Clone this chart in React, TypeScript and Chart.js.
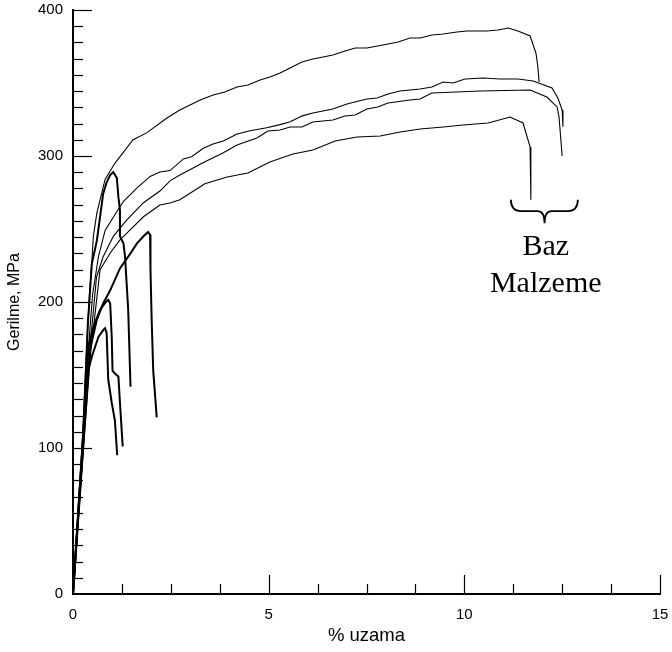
import React, { useEffect, useRef } from "react";
import { Chart, registerables } from "chart.js";

Chart.register(...registerables);

// ---- axis definitions ----
const xMin = 0;
const xMax = 15;
const xMajorStep = 5;
const xMinorStep = 1.25;
const yMin = 0;
const yMax = 400;
const yMajorStep = 100;
const yMinorPerMajor = 9;

const xTitle = "% uzama";
const yTitle = "Gerilme, MPa";
const noteLines = ["Baz", "Malzeme"];

// ---- base material curves (thin) ----
const baseA: [number, number][] = [
  [0, 0], [0.25, 110], [0.36, 175], [0.42, 205], [0.48, 227], [0.52, 245], [0.61, 261], [0.82, 284],
  [1.07, 295], [1.53, 311], [1.89, 316], [2.4, 326], [2.73, 331.5], [3.25, 338.4], [3.58, 341.8],
  [3.88, 343.8], [4.19, 347.3], [4.47, 348.6], [4.78, 352.1], [5.03, 354.1], [5.29, 356.8],
  [5.55, 360.3], [5.85, 364.4], [6.13, 366.4], [6.39, 367.8], [6.64, 369.2], [6.95, 371.9],
  [7.21, 374], [7.51, 374], [8.05, 376.7], [8.31, 378.1], [8.61, 380.8], [8.87, 380.8],
  [9.17, 382.9], [9.46, 383.6], [9.81, 384.9], [10.07, 385.6], [10.58, 385.6], [10.86, 386.3],
  [11.12, 387.7], [11.37, 385.6], [11.68, 382.2], [11.83, 370.5], [11.88, 361], [11.91, 350.7],
];
const baseB: [number, number][] = [
  [0, 0], [0.27, 110], [0.4, 170], [0.5, 205], [0.65, 231], [0.82, 249], [1.03, 258], [1.29, 269],
  [1.63, 278], [1.97, 286], [2.22, 289], [2.48, 290], [2.82, 298], [3.03, 299.5], [3.33, 305.3],
  [3.58, 308.2], [3.84, 310.3], [4.18, 314.9], [4.52, 317.3], [4.95, 319.4], [5.29, 321.5],
  [5.55, 323.4], [5.86, 327.5], [6.13, 329.5], [6.64, 332.2], [7.0, 335.6], [7.51, 339],
  [7.77, 339.7], [8.05, 342.5], [8.36, 344.5], [8.87, 345.9], [9.17, 347.3], [9.46, 350.7],
  [9.71, 350], [10.02, 352.7], [10.48, 353.4], [10.91, 352.7], [11.37, 352.7], [11.76, 351.4],
  [12.24, 346.6], [12.39, 339.7], [12.5, 331.5], [12.52, 320],
];
const baseC: [number, number][] = [
  [0, 0], [0.27, 105], [0.42, 165], [0.6, 217], [0.77, 231], [1.03, 245], [1.37, 256], [1.8, 268],
  [2.22, 276], [2.48, 283], [2.73, 287], [3.07, 291.8], [3.37, 296], [3.83, 302.1], [4.19, 307.5],
  [4.7, 312.3], [4.98, 317.1], [5.29, 317.8], [5.55, 319.9], [5.85, 319.9], [6.13, 323.3],
  [6.64, 324.7], [6.95, 327.4], [7.21, 328.1], [7.51, 332.2], [7.79, 333.6], [8.05, 336.3],
  [8.61, 338.4], [8.87, 339], [9.17, 343.2], [10.4, 344.5], [11.68, 345.2], [12.11, 340.4],
  [12.37, 333.6], [12.42, 326.7], [12.5, 300],
];
const baseD: [number, number][] = [
  [0, 0], [0.28, 105], [0.45, 165], [0.69, 222], [0.95, 233.6], [1.2, 242.5], [1.37, 247],
  [1.8, 258.4], [2.22, 266.4], [2.48, 267.8], [2.73, 270], [3.37, 281], [3.94, 285.6],
  [4.47, 288.4], [5.03, 295.9], [5.62, 301.4], [6.13, 304.1], [6.7, 310.3], [7.26, 313],
  [7.85, 313.7], [8.36, 316.4], [8.87, 318.5], [9.46, 319.9], [9.97, 321.2], [10.61, 322.6],
  [11.17, 326.7], [11.5, 322.6], [11.68, 306.2], [11.7, 270],
];

// ---- welded specimens (bold) ----
const weld1: [number, number][] = [
  [0, 0], [0.13, 55], [0.26, 110], [0.38, 185], [0.48, 226], [0.61, 242], [0.77, 274], [0.86, 282],
  [0.95, 287], [1.03, 289], [1.12, 285], [1.16, 272], [1.2, 263], [1.2, 245], [1.29, 240],
  [1.33, 231], [1.41, 195], [1.47, 142],
];
const weld2: [number, number][] = [
  [0, 0], [0.13, 50], [0.26, 100], [0.43, 167], [0.61, 188], [0.77, 199], [0.95, 208], [1.2, 223],
  [1.46, 233], [1.63, 240], [1.8, 245], [1.92, 248], [1.97, 246], [1.99, 240], [1.97, 222],
  [2.01, 188], [2.05, 153], [2.14, 121],
];
const weld3: [number, number][] = [
  [0, 0], [0.26, 108], [0.39, 169], [0.52, 183], [0.69, 194.5], [0.84, 200], [0.9, 201.5],
  [0.95, 199], [0.99, 176], [1.01, 153], [1.07, 151], [1.16, 149], [1.2, 131], [1.27, 101],
];
const weld4: [number, number][] = [
  [0, 0], [0.26, 105], [0.35, 149], [0.48, 162.5], [0.65, 176], [0.78, 181], [0.82, 182],
  [0.86, 178.6], [0.9, 147], [0.99, 131], [1.07, 119], [1.13, 95],
];

const baseSeries = [baseA, baseB, baseC, baseD];
const weldSeries = [weld1, weld2, weld3, weld4];

// annotation anchor (data units)
const braceLeft = 11.19;
const braceRight = 12.9;
const braceMid = 12.05;
const braceTopY = 270;
const braceBarY = 262.3;
const braceTipY = 254;
const noteX = 12.08;
const noteY = [232.2, 206.8];

const sans = '"Liberation Sans", Arial, sans-serif';

const decorPlugin = {
  id: "decor",
  afterDraw(chart: any) {
    const { ctx, scales, chartArea } = chart;
    const xs = scales.x;
    const ys = scales.y;
    ctx.save();
    ctx.strokeStyle = "#000";
    ctx.lineWidth = 1.2;
    // x inner ticks
    const nx = Math.round((xMax - xMin) / xMinorStep);
    for (let i = 1; i <= nx; i++) {
      const v = xMin + i * xMinorStep;
      const major = Math.abs(v / xMajorStep - Math.round(v / xMajorStep)) < 1e-6;
      const px = Math.round(xs.getPixelForValue(v)) + 0.5;
      ctx.beginPath();
      ctx.moveTo(px, chartArea.bottom);
      ctx.lineTo(px, chartArea.bottom - (major ? 19 : 10));
      ctx.stroke();
    }
    // y inner ticks
    const ny = Math.round((yMax - yMin) / yMajorStep) * yMinorPerMajor;
    for (let i = 1; i <= ny; i++) {
      const v = yMin + (i * yMajorStep) / yMinorPerMajor;
      const major = i % yMinorPerMajor === 0;
      const py = Math.round(ys.getPixelForValue(v)) + 0.5;
      ctx.beginPath();
      ctx.moveTo(chartArea.left, py);
      ctx.lineTo(chartArea.left + (major ? 19 : 10), py);
      ctx.stroke();
    }
    // brace
    const l = xs.getPixelForValue(braceLeft);
    const r = xs.getPixelForValue(braceRight);
    const m = xs.getPixelForValue(braceMid);
    const t = ys.getPixelForValue(braceTopY);
    const b = ys.getPixelForValue(braceBarY);
    const tip = ys.getPixelForValue(braceTipY);
    ctx.lineWidth = 1.8;
    ctx.beginPath();
    ctx.moveTo(l, t);
    ctx.quadraticCurveTo(l, b, l + 10, b);
    ctx.lineTo(m - 7, b);
    ctx.quadraticCurveTo(m, b, m, tip);
    ctx.quadraticCurveTo(m, b, m + 7, b);
    ctx.lineTo(r - 10, b);
    ctx.quadraticCurveTo(r, b, r, t);
    ctx.stroke();
    // text
    ctx.fillStyle = "#000";
    ctx.font = '30px "Liberation Serif", "Times New Roman", serif';
    ctx.textAlign = "center";
    ctx.textBaseline = "alphabetic";
    const nxp = xs.getPixelForValue(noteX);
    noteLines.forEach((s, i) => ctx.fillText(s, nxp, ys.getPixelForValue(noteY[i])));
    ctx.restore();
  },
};

const zeroPad = (s: any) => {
  s.paddingTop = 0;
  s.paddingBottom = 0;
  s.paddingLeft = 0;
  s.paddingRight = 0;
};

export default function App() {
  const ref = useRef<HTMLCanvasElement | null>(null);
  useEffect(() => {
    if (!ref.current) return;
    const mk = (d: [number, number][], w: number) => ({
      data: d.map(([x, y]) => ({ x, y })),
      showLine: true,
      borderColor: "#000",
      backgroundColor: "#000",
      borderWidth: w,
      pointRadius: 0,
      tension: 0,
      fill: false,
    });
    const chart = new Chart(ref.current, {
      type: "scatter",
      data: {
        datasets: [
          ...baseSeries.map((d) => mk(d, 1.1)),
          ...weldSeries.map((d) => mk(d, 2)),
        ],
      },
      options: {
        animation: false,
        responsive: false,
        maintainAspectRatio: false,
        layout: { padding: { left: 0, top: 10, right: 12, bottom: 0 } },
        plugins: { legend: { display: false }, tooltip: { enabled: false } },
        scales: {
          x: {
            type: "linear",
            min: xMin,
            max: xMax,
            afterFit: (s: any) => {
              s.height = 58;
              zeroPad(s);
            },
            grid: { display: false, drawTicks: false, tickLength: 0 },
            border: { display: true, color: "#000", width: 2 },
            ticks: {
              stepSize: xMajorStep,
              color: "#000",
              font: { family: sans, size: 15 },
              padding: 12,
              maxRotation: 0,
            },
            title: {
              display: true,
              text: xTitle,
              color: "#000",
              font: { family: sans, size: 18.5 },
              padding: { top: 0, bottom: 5 },
            },
          },
          y: {
            type: "linear",
            min: yMin,
            max: yMax,
            afterFit: (s: any) => {
              s.width = 73;
              zeroPad(s);
            },
            grid: { display: false, drawTicks: false, tickLength: 0 },
            border: { display: true, color: "#000", width: 2 },
            ticks: {
              stepSize: yMajorStep,
              color: "#000",
              font: { family: sans, size: 15 },
              padding: 10,
            },
            title: {
              display: true,
              text: yTitle,
              color: "#000",
              font: { family: sans, size: 16 },
              padding: { top: 5, bottom: 0 },
            },
          },
        },
      },
      plugins: [decorPlugin],
    } as any);
    return () => chart.destroy();
  }, []);
  return (
    <div style={{ position: "absolute", left: 0, top: 0, width: 672, height: 652, background: "#fff" }}>
      <canvas ref={ref} width={672} height={652} style={{ display: "block" }} />
    </div>
  );
}
